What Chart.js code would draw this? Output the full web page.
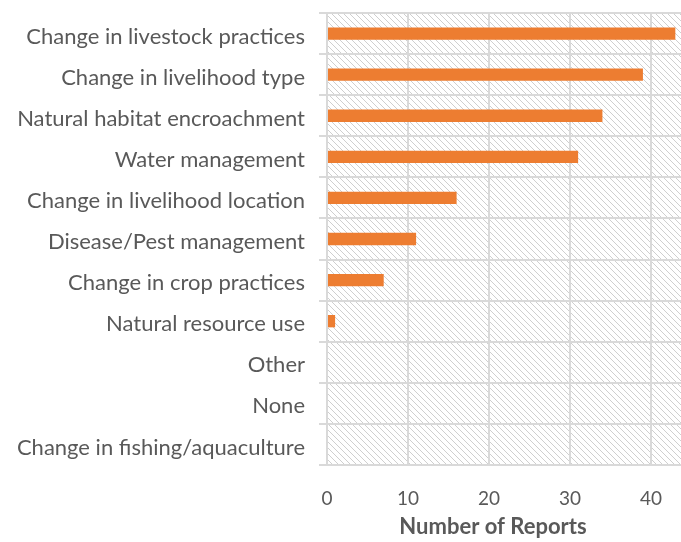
<!DOCTYPE html>
<html>
<head>
<meta charset="utf-8">
<script src="https://cdn.jsdelivr.net/npm/chart.js@4/dist/chart.umd.min.js"></script>
<style>
    html, body { margin: 0; padding: 0; background: #fff; }
    #wrap { width: 681px; height: 542px; }
</style>
</head>
<body>
<div id="wrap"><canvas id="reportsChart"></canvas></div>
<script>
const categories = [
    'Change in livestock practices',
    'Change in livelihood type',
    'Natural habitat encroachment',
    'Water management',
    'Change in livelihood location',
    'Disease/Pest management',
    'Change in crop practices',
    'Natural resource use',
    'Other',
    'None',
    'Change in fishing/aquaculture'
];
const reports = [43, 39, 34, 31, 16, 11, 7, 1, 0, 0, 0];
const xTicks = [0, 10, 20, 30, 40];
const axisTitle = 'Number of Reports';

const textColor = '#595959';
const gridColor = '#d9d9d9';
const fontFamily = 'Lato, "Open Sans", sans-serif';

// diagonal hatch for the plot area
const makeHatch = function (ctx) {
    const tile = document.createElement('canvas');
    tile.width = 6;
    tile.height = 6;
    const t = tile.getContext('2d');
    t.fillStyle = '#fff';
    t.fillRect(0, 0, 6, 6);
    t.strokeStyle = '#cfcfcf';
    t.lineWidth = 1;
    t.beginPath();
    t.moveTo(-1, -1);
    t.lineTo(7, 7);
    t.moveTo(-1, 5);
    t.lineTo(1, 7);
    t.moveTo(5, -1);
    t.lineTo(7, 1);
    t.stroke();
    return ctx.createPattern(tile, 'repeat');
}

const hatchBackground = {
    id: 'hatchBackground',
    beforeDraw: function (chart) {
        const a = chart.chartArea;
        const ctx = chart.ctx;
        ctx.save();
        ctx.fillStyle = makeHatch(ctx);
        ctx.fillRect(a.left, a.top, a.right - a.left, a.bottom - a.top);
        ctx.restore();
    }
};

const xTitle = {
    id: 'xTitle',
    afterDraw: function (chart) {
        const ctx = chart.ctx;
        ctx.save();
        ctx.font = 'bold 22px ' + fontFamily;
        ctx.fillStyle = textColor;
        ctx.textAlign = 'center';
        ctx.textBaseline = 'middle';
        ctx.fillText(axisTitle, 493, 527);
        ctx.restore();
    }
};

const ctx = document.getElementById('reportsChart').getContext('2d');
const config = {
    type: 'bar',
    data: {
        labels: categories,
        datasets: [{
            label: axisTitle,
            data: reports,
            backgroundColor: '#ed7d31',
            barPercentage: 0.3,
            categoryPercentage: 1
        }]
    },
    options: {
        indexAxis: 'y',
        responsive: true,
        maintainAspectRatio: false,
        animation: false,
        layout: {
            padding: { top: 13, right: 0, left: 0, bottom: 0 }
        },
        plugins: {
            legend: { display: false },
            tooltip: { enabled: false }
        },
        scales: {
            x: {
                min: 0,
                max: 43.7,
                afterBuildTicks: function (scale) {
                    scale.ticks = xTicks.map(v => ({ value: v }));
                },
                afterFit: function (scale) {
                    scale.height = 77;
                    scale.paddingLeft = 0;
                    scale.paddingRight = 0;
                },
                border: { display: false },
                grid: {
                    color: gridColor,
                    lineWidth: 2,
                    drawTicks: false
                },
                ticks: {
                    color: textColor,
                    padding: 22,
                    font: { family: fontFamily, size: 19 }
                }
            },
            y: {
                afterFit: function (scale) {
                    scale.width = 327;
                    scale.paddingTop = 0;
                    scale.paddingBottom = 0;
                },
                border: { display: false },
                grid: {
                    offset: true,
                    color: gridColor,
                    lineWidth: 2,
                    tickLength: 8
                },
                ticks: {
                    color: textColor,
                    padding: 14,
                    labelOffset: 3,
                    font: { family: fontFamily, size: 22 }
                }
            }
        }
    },
    plugins: [hatchBackground, xTitle]
};
const myChart = new Chart(ctx, config);
</script>
</body>
</html>
